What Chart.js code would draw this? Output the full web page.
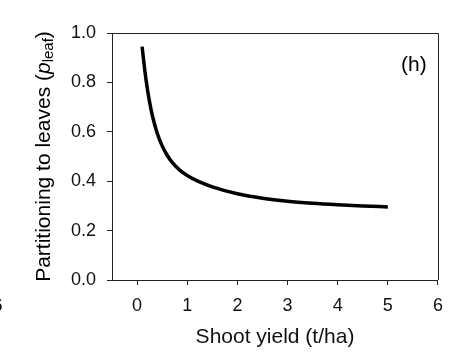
<!DOCTYPE html>
<html>
<head>
<meta charset="utf-8">
<script src="https://cdn.jsdelivr.net/npm/chart.js@4.4.1/dist/chart.umd.min.js"></script>
<style>
  html, body { margin: 0; padding: 0; background: #fff; }
  #wrap { width: 453px; height: 361px; }
</style>
</head>
<body>
<div id="wrap"><canvas id="leaf-chart" width="453" height="361"></canvas></div>
<script>
// Shoot yield (t/ha) vs partitioning to leaves
var yieldVals = [0.1, 0.15, 0.2, 0.25, 0.3, 0.4, 0.5, 0.6, 0.7, 0.85, 1.0, 1.2, 1.5, 2.0, 2.5, 3.0, 3.5, 4.0, 4.5, 5.0];
var pLeafVals = [0.945, 0.855, 0.78, 0.72, 0.67, 0.595, 0.543, 0.505, 0.476, 0.445, 0.423, 0.401, 0.377, 0.349, 0.331, 0.319, 0.311, 0.305, 0.300, 0.296];
var xTicks = [0, 1, 2, 3, 4, 5, 6];
var yTicks = [0.0, 0.2, 0.4, 0.6, 0.8, 1.0];
var panelLabel = "(h)";

var FONT = "'Liberation Sans', Arial, sans-serif";
var AXIS = "#222";

var points = [];
for (let i = 0; i < yieldVals.length; i++) {
    points.push({x: yieldVals[i], y: pLeafVals[i]});
}

// frame round the plot, the panel letter, and the y title with italic p and subscript
var extras = {
    id: "extras",
    afterDraw: function(chart) {
        var c = chart.ctx, a = chart.chartArea;
        var xs = chart.scales.x, ys = chart.scales.y;
        c.save();
        c.strokeStyle = AXIS;
        c.lineWidth = 1;
        c.beginPath();
        c.moveTo(a.left, a.top + 0.5);
        c.lineTo(a.right + 0.5, a.top + 0.5);
        c.lineTo(a.right + 0.5, a.bottom);
        c.stroke();

        c.fillStyle = "#000";
        c.font = "21px " + FONT;
        c.textAlign = "center";
        c.textBaseline = "middle";
        c.fillText(panelLabel, xs.getPixelForValue(5.52), ys.getPixelForValue(0.868));

        // cut-off glyph from the neighbouring panel
        c.font = "18px " + FONT;
        c.fillText("6", -2.5, 306);

        // y title
        var parts = [
            {t: "Partitioning to leaves (", f: "21px " + FONT, dy: 0},
            {t: "p", f: "italic 21px " + FONT, dy: 0},
            {t: "leaf", f: "15px " + FONT, dy: 5},
            {t: ")", f: "21px " + FONT, dy: 0}
        ];
        var total = 0;
        parts.forEach(function(p) { c.font = p.f; p.w = c.measureText(p.t).width; total += p.w; });
        c.translate(44, (a.top + a.bottom) / 2);
        c.rotate(-Math.PI / 2);
        c.textAlign = "left";
        var pos = -total / 2;
        parts.forEach(function(p) {
            c.font = p.f;
            c.fillText(p.t, pos, p.dy);
            pos += p.w;
        });
        c.restore();
    }
};

var ctx = document.getElementById("leaf-chart").getContext("2d");
var myChart = new Chart(ctx, {
    type: "line",
    data: {
        datasets: [{
            label: "p leaf",
            data: points,
            borderColor: "#000",
            borderWidth: 3.5,
            pointRadius: 0,
            fill: false,
            cubicInterpolationMode: "monotone"
        }]
    },
    options: {
        responsive: false,
        animation: false,
        devicePixelRatio: 1,
        layout: { padding: { top: 33, right: 13, left: 0, bottom: 0 } },
        plugins: { legend: { display: false }, tooltip: { enabled: false } },
        scales: {
            x: {
                type: "linear",
                min: -0.5,
                max: 6,
                afterBuildTicks: function(axis) { axis.ticks = xTicks.map(function(v) { return {value: v}; }); },
                afterFit: function(axis) { axis.height = 81; },
                grid: { drawOnChartArea: false, tickLength: 5, color: AXIS },
                border: { color: AXIS },
                ticks: { color: "#111", font: { family: FONT, size: 18 }, padding: 10 },
                title: { display: true, text: "Shoot yield (t/ha)", color: "#111", font: { family: FONT, size: 21 }, padding: { top: 4, bottom: 11 } }
            },
            y: {
                min: 0,
                max: 1,
                afterBuildTicks: function(axis) { axis.ticks = yTicks.map(function(v) { return {value: v}; }); },
                afterFit: function(axis) { axis.width = 112; },
                grid: { drawOnChartArea: false, tickLength: 5, color: AXIS },
                border: { color: AXIS },
                ticks: { color: "#111", font: { family: FONT, size: 18 }, padding: 11,
                    callback: function(v) { return v.toFixed(1); } }
            }
        }
    },
    plugins: [extras]
});
</script>
</body>
</html>
